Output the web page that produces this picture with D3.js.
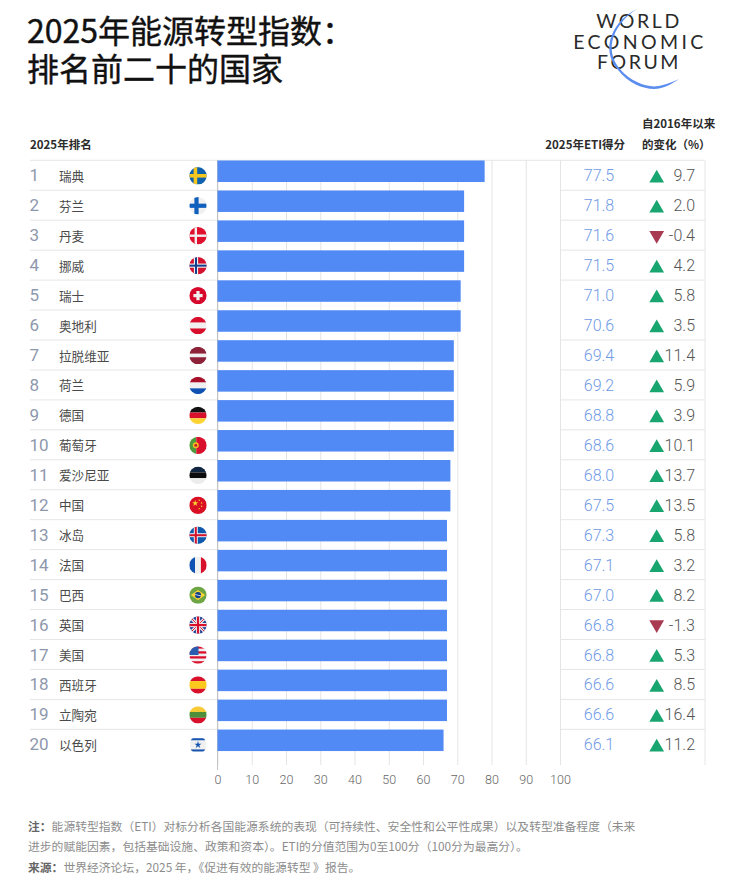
<!DOCTYPE html>
<html lang="zh-CN">
<head>
<meta charset="utf-8">
<script src="https://cdn.jsdelivr.net/npm/d3@7/dist/d3.min.js"></script>
<style>
  html, body { margin: 0; padding: 0; background: #fff; }
  svg { display: block; }
  text { font-family: "Noto Sans CJK SC", sans-serif; }
  .num { font-family: "Roboto", "Liberation Sans", sans-serif; font-weight: 300; }
  .head { font-size: 11.5px; font-weight: 700; fill: #2b2b2b; }
  .x-axis text { font-family: "Roboto", sans-serif; font-weight: 300; font-size: 12.5px; fill: #666; }
  .x-axis path { display: none; }
  .x-axis line { stroke: #e4e4e4; }
  .note { font-size: 11.8px; fill: #8c8c8c; }
  .note .b { font-weight: 700; fill: #666; }
  .logo text { font-family: Lato, sans-serif; font-weight: 400; font-size: 19.5px; letter-spacing: 2.6px; fill: #2a2a2a; text-anchor: middle; }
</style>
</head>
<body>
<div id="plot"></div>
<script>
// values
const ranks = d3.range(1, 21);
const countries = ['瑞典', '芬兰', '丹麦', '挪威', '瑞士', '奥地利', '拉脱维亚', '荷兰', '德国', '葡萄牙',
  '爱沙尼亚', '中国', '冰岛', '法国', '巴西', '英国', '美国', '西班牙', '立陶宛', '以色列'];
const flagCodes = ['se', 'fi', 'dk', 'no', 'ch', 'at', 'lv', 'nl', 'de', 'pt',
  'ee', 'cn', 'is', 'fr', 'br', 'gb', 'us', 'es', 'lt', 'il'];
// bar lengths in the source are rounded, they do not follow the score column exactly
const barValues = [78, 72, 72, 72, 71, 71, 69, 69, 69, 69, 68, 68, 67, 67, 67, 67, 67, 67, 67, 66];
const scores = [77.5, 71.8, 71.6, 71.5, 71.0, 70.6, 69.4, 69.2, 68.8, 68.6,
  68.0, 67.5, 67.3, 67.1, 67.0, 66.8, 66.8, 66.6, 66.6, 66.1];
const changes = [9.7, 2.0, -0.4, 4.2, 5.8, 3.5, 11.4, 5.9, 3.9, 10.1,
  13.7, 13.5, 5.8, 3.2, 8.2, -1.3, 5.3, 8.5, 16.4, 11.2];
const xTicks = [0, 10, 20, 30, 40, 50, 60, 70, 80, 90, 100];

const width = 732, height = 885;
const svg = d3.select('#plot').append('svg')
  .attr('width', width).attr('height', height)
  .attr('viewBox', `0 0 ${width} ${height}`);

const x = d3.scaleLinear().domain([0, 100]).range([217.5, 560]);
// one band per row, first row line at 160, last row ends at 760
const y = d3.scaleBand().domain(ranks).range([160.3, 759.3]);
const barTop = d => y(d) + 0.2;
const barH = 21.5;
const textY = d => y(d) + 21;

const flagR = 8.7;
svg.append('clipPath').attr('id', 'flagClip').append('circle').attr('r', flagR);

// Title, regular weight with a hairline stroke to sit between regular and bold
const title = svg.append('g').attr('fill', '#111').attr('stroke', '#111').attr('stroke-width', 0.4)
  .style('font-size', '32px').style('font-weight', 400);
title.append('text').attr('x', 27).attr('y', 43).text('2025年能源转型指数：');
title.append('text').attr('x', 27).attr('y', 80.5).text('排名前二十的国家');

// Logo
const logo = svg.append('g').attr('class', 'logo');
logo.append('text').attr('x', 639).attr('y', 27.5).text('WORLD');
logo.append('text').attr('x', 640).attr('y', 49).style('letter-spacing', '3.4px').text('ECONOMIC');
logo.append('text').attr('x', 639).attr('y', 69).text('FORUM');
logo.append('path')
  .attr('d', 'M637,9 C614,20 599,48 618,70 C628,83 643,89 654,89 C664,88.5 672,84 679,79 C671,83 662,86 654,86.5 C644,86 630,81 620,69 C602,48 616,22 637,9 Z')
  .attr('fill', '#5b8def');

// Column headers
svg.append('text').attr('class', 'head').attr('x', 30).attr('y', 149).text('2025年排名');
svg.append('text').attr('class', 'head').attr('x', 625).attr('y', 149).attr('text-anchor', 'end').text('2025年ETI得分');
svg.append('text').attr('class', 'head').attr('x', 642).attr('y', 128).text('自2016年以来');
svg.append('text').attr('class', 'head').attr('x', 642).attr('y', 149).text('的变化（%）');

// Axis, tick lines run up through the plot as grid
const xAxis = d3.axisBottom(x).tickValues(xTicks)
  .tickSize(-(765 - 160.3)).tickPadding(10).tickFormat(d3.format('d'));
svg.append('g')
  .attr('class', 'x-axis')
  .attr('transform', 'translate(0,765)')
  .call(xAxis);

// Row lines
const rowLines = svg.append('g').attr('stroke', '#e6e6e6');
rowLines.selectAll('line.left').data(ranks.slice(1)).join('line').attr('class', 'left')
  .attr('x1', 30).attr('x2', x(0)).attr('y1', d => y(d)).attr('y2', d => y(d));
// the line above row 6 is missing on the right hand table
rowLines.selectAll('line.right').data(ranks.slice(1).filter(d => d !== 6)).join('line').attr('class', 'right')
  .attr('x1', 560).attr('x2', 705).attr('y1', d => y(d)).attr('y2', d => y(d));
rowLines.append('line').attr('x1', 30).attr('x2', 705).attr('y1', y(1)).attr('y2', y(1));
rowLines.append('line').attr('x1', 705).attr('x2', 705).attr('y1', y(1)).attr('y2', 765);
svg.append('line').attr('x1', x(0)).attr('x2', x(0)).attr('y1', y(1)).attr('y2', 770).attr('stroke', '#c4c4c4');

// Bars
svg.append('g').selectAll('rect').data(ranks).join('rect')
  .attr('x', x(0)).attr('y', barTop)
  .attr('width', d => x(barValues[d - 1]) - x(0)).attr('height', barH)
  .attr('fill', '#5189f5');

// Rank and name
svg.append('g').selectAll('text').data(ranks).join('text')
  .attr('class', 'num').attr('x', 29.5).attr('y', textY)
  .style('font-size', '17px').style('font-weight', 400).attr('fill', '#8e98ad')
  .text(d => d);
svg.append('g').selectAll('text').data(ranks).join('text')
  .attr('x', 59).attr('y', d => textY(d) - 0.5)
  .style('font-size', '12.6px').attr('fill', '#4a4a4a')
  .text(d => countries[d - 1]);

// Scores
svg.append('g').selectAll('text').data(ranks).join('text')
  .attr('class', 'num').attr('x', 599).attr('y', textY).attr('text-anchor', 'middle')
  .style('font-size', '16px').attr('fill', '#6f9ae6')
  .text(d => scores[d - 1].toFixed(1));

// Change column
const tri = d3.symbol().type(d3.symbolTriangle).size(94);
svg.append('g').selectAll('path').data(ranks).join('path')
  .attr('d', tri)
  .attr('transform', d => {
    const up = changes[d - 1] >= 0;
    return up ? `translate(656.7,${y(d) + 18})` : `translate(656.7,${y(d) + 15}) rotate(180)`;
  })
  .attr('fill', d => changes[d - 1] >= 0 ? '#18a56f' : '#a83a52');
svg.append('g').selectAll('text').data(ranks).join('text')
  .attr('class', 'num').attr('x', 695).attr('y', textY).attr('text-anchor', 'end')
  .style('font-size', '16px').attr('fill', '#555')
  .text(d => changes[d - 1].toFixed(1));

// Flags
const R = flagR;
function hStripes(g, colors, weights) {
  const w = weights || colors.map(() => 1);
  const total = d3.sum(w);
  let top = -R;
  colors.forEach((c, i) => {
    const h = 2 * R * w[i] / total;
    g.append('rect').attr('x', -R).attr('y', top).attr('width', 2 * R).attr('height', h).attr('fill', c);
    top += h;
  });
}
function vStripes(g, colors, weights) {
  const w = weights || colors.map(() => 1);
  const total = d3.sum(w);
  let left = -R;
  colors.forEach((c, i) => {
    const d = 2 * R * w[i] / total;
    g.append('rect').attr('x', left).attr('y', -R).attr('width', d).attr('height', 2 * R).attr('fill', c);
    left += d;
  });
}
function cross(g, color, t, cx) {
  g.append('rect').attr('x', -R).attr('y', -t / 2).attr('width', 2 * R).attr('height', t).attr('fill', color);
  g.append('rect').attr('x', cx - t / 2).attr('y', -R).attr('width', t).attr('height', 2 * R).attr('fill', color);
}
function bg(g, color) {
  g.append('rect').attr('x', -R).attr('y', -R).attr('width', 2 * R).attr('height', 2 * R).attr('fill', color);
}
const white = '#f0f0f0';
const flagDraw = {
  se: g => { bg(g, '#0f62ad'); cross(g, '#f6c71e', 3.6, -2.6); },
  fi: g => { bg(g, white); cross(g, '#0f5fbd', 4.2, -1.5); },
  dk: g => { bg(g, '#e0102f'); cross(g, white, 2.4, -2.2); },
  no: g => { bg(g, '#d3122e'); cross(g, white, 4.2, -2); cross(g, '#12408f', 2, -2); },
  ch: g => {
    bg(g, '#d6082b');
    g.append('rect').attr('x', -4.6).attr('y', -1.6).attr('width', 9.2).attr('height', 3.2).attr('fill', white);
    g.append('rect').attr('x', -1.6).attr('y', -4.6).attr('width', 3.2).attr('height', 9.2).attr('fill', white);
  },
  at: g => hStripes(g, ['#d80f2c', white, '#d80f2c']),
  lv: g => hStripes(g, ['#8c2137', white, '#8c2137'], [2, 1, 2]),
  nl: g => hStripes(g, ['#a8102a', white, '#0f52b4']),
  de: g => hStripes(g, ['#111', '#d8102c', '#fbd433']),
  pt: g => {
    vStripes(g, ['#4f9a3c', '#d8102c'], [2, 3]);
    g.append('circle').attr('cx', -2.2).attr('r', 3).attr('fill', '#f3c021');
    g.append('circle').attr('cx', -2.2).attr('r', 1.5).attr('fill', '#c8202c');
  },
  ee: g => hStripes(g, ['#10253f', '#0c0c0c', '#ececec']),
  cn: g => {
    bg(g, '#d90f23');
    g.append('path').attr('d', d3.symbol().type(d3.symbolStar).size(12)).attr('transform', 'translate(-2.8,-2)').attr('fill', '#fbd433');
    [[1.2, -5], [3.6, -2.2], [3.6, 1], [1.2, 3.4]].forEach(p => {
      g.append('circle').attr('cx', p[0]).attr('cy', p[1]).attr('r', 0.7).attr('fill', '#fbd433');
    });
  },
  is: g => { bg(g, '#0f5aae'); cross(g, white, 4, -2.2); cross(g, '#d3122e', 2, -2.2); },
  fr: g => vStripes(g, ['#0f52b4', white, '#d8102c']),
  br: g => {
    bg(g, '#6da544');
    g.append('path').attr('d', `M${-7.2},0 L0,-5.2 L7.2,0 L0,5.2 Z`).attr('fill', '#fbd433');
    g.append('circle').attr('r', 3.1).attr('fill', '#123f8a');
    g.append('line').attr('x1', -3).attr('y1', -0.6).attr('x2', 3).attr('y2', 0.8).attr('stroke', white).attr('stroke-width', 0.8);
  },
  gb: g => {
    bg(g, '#1f3f94');
    [[-R, -R, R, R], [-R, R, R, -R]].forEach(p => {
      g.append('line').attr('x1', p[0]).attr('y1', p[1]).attr('x2', p[2]).attr('y2', p[3]).attr('stroke', white).attr('stroke-width', 3);
      g.append('line').attr('x1', p[0]).attr('y1', p[1]).attr('x2', p[2]).attr('y2', p[3]).attr('stroke', '#d8102c').attr('stroke-width', 1);
    });
    cross(g, white, 4.2, 0);
    cross(g, '#d8102c', 2.2, 0);
  },
  us: g => {
    hStripes(g, d3.range(7).map(i => i % 2 ? white : '#d8102c'));
    g.append('rect').attr('x', -R).attr('y', -R).attr('width', R + 0.5).attr('height', R).attr('fill', '#2a5db0');
  },
  es: g => hStripes(g, ['#d8102c', '#fbc91e', '#d8102c'], [1, 1.6, 1]),
  lt: g => hStripes(g, ['#f6cb35', '#4f8f3c', '#d8102c']),
  il: g => {
    g.append('rect').attr('x', -7.8).attr('y', -7).attr('width', 15.6).attr('height', 14).attr('rx', 2).attr('fill', '#f0f0f0');
    g.append('rect').attr('x', -7.8).attr('y', -6.6).attr('width', 15.6).attr('height', 2).attr('fill', '#1554b0');
    g.append('rect').attr('x', -7.8).attr('y', 4.6).attr('width', 15.6).attr('height', 2).attr('fill', '#1554b0');
    g.append('path').attr('d', d3.symbol().type(d3.symbolStar).size(16)).attr('fill', '#1554b0');
  }
};
svg.append('g').selectAll('g').data(ranks).join('g')
  .attr('transform', d => `translate(198,${y(d) + 15.5})`)
  .attr('clip-path', 'url(#flagClip)')
  .each(function(d) { flagDraw[flagCodes[d - 1]](d3.select(this)); });

// Notes
const note1 = svg.append('text').attr('class', 'note').attr('x', 28).attr('y', 831);
note1.append('tspan').attr('class', 'b').text('注：');
note1.append('tspan').text('能源转型指数（ETI）对标分析各国能源系统的表现（可持续性、安全性和公平性成果）以及转型准备程度（未来');
svg.append('text').attr('class', 'note').attr('x', 28).attr('y', 851)
  .text('进步的赋能因素，包括基础设施、政策和资本）。ETI的分值范围为0至100分（100分为最高分）。');
const note3 = svg.append('text').attr('class', 'note').attr('x', 28).attr('y', 872);
note3.append('tspan').attr('class', 'b').text('来源：');
note3.append('tspan').text('世界经济论坛，2025 年，《促进有效的能源转型 》报告。');
</script>
</body>
</html>
